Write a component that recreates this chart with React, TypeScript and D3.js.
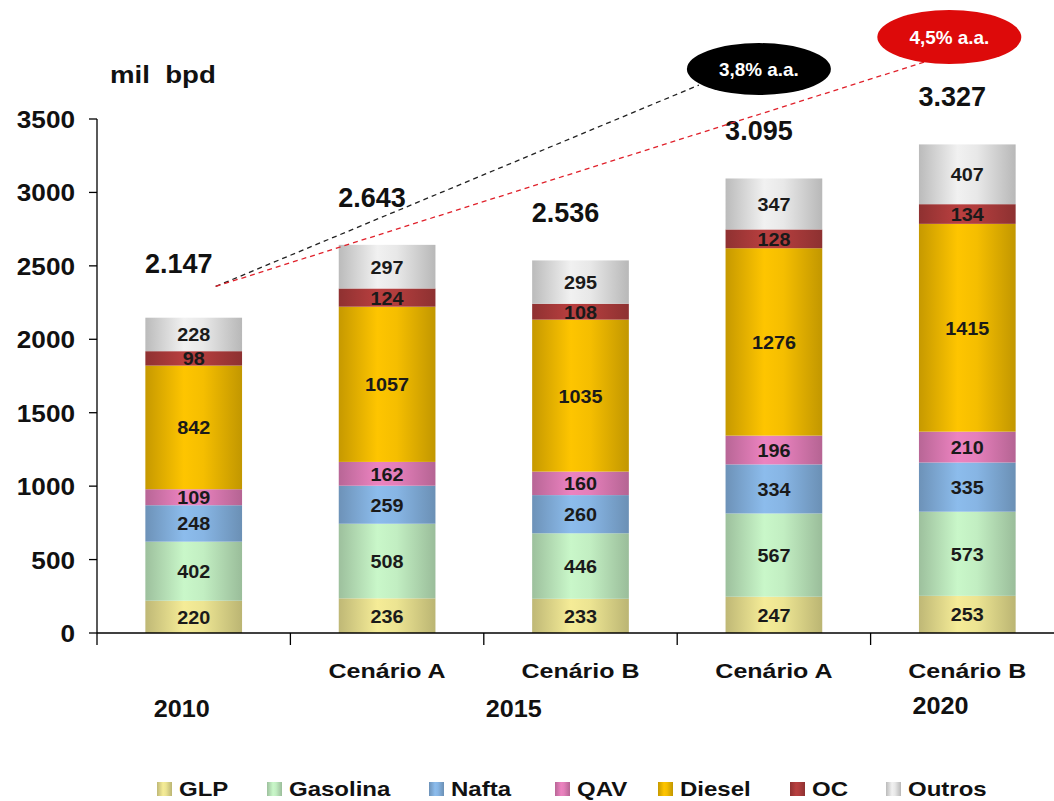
import React from "react";
import * as d3 from "d3";

const categories = ["2010", "2015A", "2015B", "2020A", "2020B"];
const scenarioLabels = ["", "Cenário A", "Cenário B", "Cenário A", "Cenário B"];
const yearLabels = ["2010", "2015", "2020"];
const totals = ["2.147", "2.643", "2.536", "3.095", "3.327"];
const seriesNames = ["GLP", "Gasolina", "Nafta", "QAV", "Diesel", "OC", "Outros"];
const seriesColors = ["#e0d88a", "#b8e2b8", "#80acd8", "#d878b0", "#e8b400", "#a83a3a", "#dcdcdc"];
const GLP = [220, 236, 233, 247, 253];
const Gasolina = [402, 508, 446, 567, 573];
const Nafta = [248, 259, 260, 334, 335];
const QAV = [109, 162, 160, 196, 210];
const Diesel = [842, 1057, 1035, 1276, 1415];
const OC = [98, 124, 108, 128, 134];
const Outros = [228, 297, 295, 347, 407];
const yTicks = [0, 500, 1000, 1500, 2000, 2500, 3000, 3500];

const seriesValues = [GLP, Gasolina, Nafta, QAV, Diesel, OC, Outros];

const font = "'Liberation Sans', Arial, sans-serif";

function T(props: { x: number; y: number; size: number; sx?: number; anchor?: string; fill?: string; children: any }) {
  const { x, y, size, sx = 1.1, anchor = "middle", fill = "#111", children } = props;
  return (
    <text transform={`translate(${x},${y}) scale(${sx},1)`} textAnchor={anchor} fontFamily={font}
      fontWeight="bold" fontSize={size} fill={fill} style={{ whiteSpace: "pre" }}>{children}</text>
  );
}

export default function App() {
  const W = 1054, H = 801;
  const x0 = 97, y0 = 633, yTop = 119;
  const x = d3.scaleBand().domain(categories).range([x0, x0 + 5 * 193.4]).paddingInner(0.5).paddingOuter(0.25);
  const y = d3.scaleLinear().domain([0, 3500]).range([y0, yTop]);
  const bw = x.bandwidth();
  const step = x.step();

  const rows = categories.map((c, i) => {
    const r: any = { cat: c };
    seriesNames.forEach((s, j) => (r[s] = seriesValues[j][i]));
    return r;
  });
  const stacked = d3.stack().keys(seriesNames)(rows);

  const cx = (i: number) => (x(categories[i]) as number) + bw / 2;

  const startX = cx(0) + 22, startY = y(2360);
  const blackC = { x: cx(3) - 15, y: y(3840) };
  const redC = { x: cx(4) - 18, y: y(4058) };

  return (
    <svg width={W} height={H} style={{ position: "absolute", left: 0, top: 0, background: "#fff" }}>
      <defs>
        {seriesColors.map((c, j) => {
          const base = d3.color(c)!;
          return (
            <linearGradient id={`g${j}`} key={j} x1="0" x2="1" y1="0" y2="0">
              <stop offset="0" stopColor={base.darker(0.45).formatHex()} />
              <stop offset="0.4" stopColor={base.brighter(0.25).formatHex()} />
              <stop offset="0.6" stopColor={base.brighter(0.15).formatHex()} />
              <stop offset="1" stopColor={base.darker(0.5).formatHex()} />
            </linearGradient>
          );
        })}
      </defs>

      <T x={110} y={83} size={24} sx={1.15} anchor="start">{"mil  bpd"}</T>

      {/* Bars */}
      {stacked.map((layer, j) => (
        <g key={j}>
          {layer.map((d, i) => (
            <rect key={i} x={x(categories[i])} y={y(d[1])} width={bw} height={y(d[0]) - y(d[1])} fill={`url(#g${j})`} />
          ))}
        </g>
      ))}
      {stacked.map((layer, j) => (
        <g key={"t" + j}>
          {layer.map((d, i) => (
            <T key={i} x={cx(i)} y={(y(d[0]) + y(d[1])) / 2 + 7} size={18} sx={1.1} fill="#1a1a1a">{seriesValues[j][i]}</T>
          ))}
        </g>
      ))}

      {/* Totals */}
      {totals.map((t, i) => (
        <T key={i} x={cx(i) - 15} y={y(stacked[6][i][1]) - (i === 0 ? 45 : 38)} size={27} sx={1.0}>{t}</T>
      ))}

      {/* Y axis */}
      <line x1={x0} x2={x0} y1={yTop} y2={y0} stroke="#000" strokeWidth={1.3} />
      {yTicks.map((t) => (
        <g key={t}>
          <line x1={x0 - 8} x2={x0} y1={y(t)} y2={y(t)} stroke="#000" strokeWidth={1.3} />
          <T x={75} y={y(t) + 9} size={24} sx={1.09} anchor="end">{t}</T>
        </g>
      ))}

      {/* X axis */}
      <line x1={x0} x2={W} y1={y0} y2={y0} stroke="#000" strokeWidth={1.3} />
      {categories.map((c, i) => (
        <line key={c} x1={x0 + i * step} x2={x0 + i * step} y1={y0} y2={y0 + 12} stroke="#000" strokeWidth={1.3} />
      ))}
      {scenarioLabels.map((s, i) => (
        <T key={i} x={cx(i)} y={678} size={21} sx={1.19}>{s}</T>
      ))}
      <T x={cx(0) - 12} y={717} size={24} sx={1.05}>{yearLabels[0]}</T>
      <T x={x0 + 2 * step + 30} y={717} size={24} sx={1.05}>{yearLabels[1]}</T>
      <T x={x0 + 4 * step + 70} y={714} size={24} sx={1.05}>{yearLabels[2]}</T>

      {/* Growth annotations */}
      <line x1={startX} y1={startY} x2={blackC.x - 60} y2={blackC.y + 16} stroke="#222" strokeWidth={1.3} strokeDasharray="5,4" />
      <line x1={startX} y1={startY} x2={redC.x - 25} y2={redC.y + 25} stroke="#e0202a" strokeWidth={1.3} strokeDasharray="5,4" />
      <ellipse cx={blackC.x} cy={blackC.y} rx={72} ry={26} fill="#000" />
      <T x={blackC.x} y={blackC.y + 7} size={18} sx={1.05} fill="#fff">3,8% a.a.</T>
      <ellipse cx={redC.x} cy={redC.y} rx={72} ry={27} fill="#dd0a0a" />
      <T x={redC.x} y={redC.y + 7} size={18} sx={1.05} fill="#fff">4,5% a.a.</T>

      {/* Legend */}
      {seriesNames.map((s, j) => {
        const lx = [157, 267, 429, 555, 658, 790, 886][j];
        return (
          <g key={s}>
            <rect x={lx} y={782} width={15} height={14} fill={`url(#g${j})`} />
            <T x={lx + 22} y={796} size={20} sx={1.2} anchor="start">{s}</T>
          </g>
        );
      })}
    </svg>
  );
}
